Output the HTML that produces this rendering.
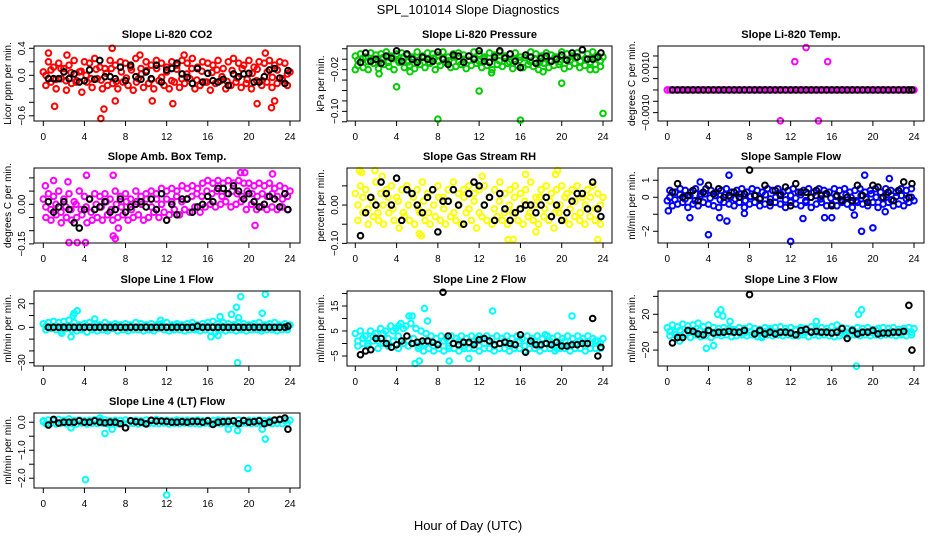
<!DOCTYPE html>
<html><head><meta charset="utf-8"><style>
html,body{margin:0;padding:0;background:#fff;}
svg{display:block;font-family:"Liberation Sans",Arial,sans-serif;}
</style></head><body>
<svg id="chart" width="936" height="540" viewBox="0 0 936 540">
<rect x="0" y="0" width="936" height="540" fill="#fff"/>
<text x="468" y="14" text-anchor="middle" font-size="13">SPL_101014  Slope Diagnostics</text>
<text x="468" y="530" text-anchor="middle" font-size="13">Hour of Day (UTC)</text>
</svg>
<script>
// ---- shared x ticks ----
const xTicks = [0,4,8,12,16,20,24];

// ---- CO2 ----
const co2Cloud = [0.05,-0.15,0.2,-0.1,0.12,-0.2,0.18,-0.05,0.1,-0.22,0.15,-0.12,0.22,-0.08,0.05,-0.25,0.2,-0.1,0.18,-0.18,0.25,-0.05,0.12,-0.2,0.1,-0.15,0.22,-0.12,0.15,-0.2,0.2,-0.1,0.18,-0.15,0.12,-0.22,0.25,-0.05,0.1,-0.18,0.2,-0.12,0.15,-0.2,0.22,-0.08,0.18,-0.15,0.12,-0.2,0.2,-0.1,0.15,-0.18,0.22,-0.12,0.18,-0.05,0.25,-0.2,0.12,-0.15,0.2,-0.1,0.18,-0.22,0.15,-0.12,0.22,-0.08,0.1,-0.2,0.2,-0.15,0.25,-0.1,0.18,-0.18,0.15,-0.12,0.22,-0.2,0.12,-0.08,0.2,-0.15,0.18,-0.1,0.22,-0.18,0.15,-0.12,0.2,-0.05,0.18,-0.15,0.05];
const co2Cloud2 = [0.0,0.08,-0.06,0.1,-0.08,0.04,-0.1,0.06,0.0,-0.05,0.09,-0.07,0.03,0.1,-0.09,0.05,-0.04,0.08,-0.1,0.02,0.07,-0.06,0.1,-0.03,0.05,-0.08,0.09,-0.05,0.02,0.1,-0.07,0.06,-0.1,0.04,0.08,-0.02,-0.09,0.07,-0.04,0.1,-0.06,0.03,0.09,-0.08,0.05,-0.03,0.08,-0.07,0.02];
const co2OutX = [0.5,1.1,5.6,5.9,6.7,20.8,22.2,22.5,13.7,2.3,10.6,12.6,7.0,21.6,9.4];
const co2OutY = [0.33,-0.46,-0.64,-0.5,0.4,-0.42,-0.48,-0.38,0.3,0.3,-0.38,-0.42,-0.38,0.33,0.3];
const co2Blk = [-0.05,-0.05,-0.05,0.05,-0.05,0.02,-0.1,-0.08,0.08,-0.06,0.22,-0.02,-0.02,-0.05,0.12,-0.08,0.15,-0.02,-0.06,0.05,-0.05,0.15,-0.1,0.08,0.1,0.18,0.02,-0.03,-0.12,0.1,-0.1,0.03,-0.08,-0.1,-0.06,-0.15,0.02,-0.02,0.02,0.03,-0.1,-0.1,-0.02,0.08,0.1,-0.04,-0.12,0.07];
const co2Ticks = [0.4,0.2,0.0,-0.2,-0.4,-0.6];
const co2Labels = ["0.4","","0.0","","","-0.6"];

// ---- Pressure ----
const prCloud = [0.006,-0.012,0.01,-0.016,0.004,-0.02,0.012,-0.008,0.008,-0.018,0.01,-0.01,0.014,-0.014,0.006,-0.02,0.01,-0.006,0.012,-0.016,0.008,-0.012,0.004,-0.018,0.014,-0.01,0.006,-0.016,0.012,-0.008,0.01,-0.02,0.008,-0.012,0.014,-0.006,0.004,-0.016,0.01,-0.014,0.012,-0.01,0.008,-0.018,0.006,-0.012,0.014,-0.008,0.01,-0.016,0.004,-0.012,0.012,-0.02,0.008,-0.01,0.014,-0.014,0.006,-0.008,0.01,-0.018,0.012,-0.012,0.004,-0.016,0.008,-0.01,0.014,-0.014,0.01,-0.02,0.006,-0.008,0.012,-0.016,0.008,-0.012,0.004,-0.01,0.014,-0.018,0.01,-0.014,0.006,-0.008,0.012,-0.016,0.008,-0.012,0.01,-0.02,0.014,-0.01,0.006,-0.014,0.004];
const prCloud2 = [-0.002,0.002,-0.005,0.0,-0.004,0.003,-0.006,0.001,-0.003,0.004,-0.005,0.0,-0.002,0.003,-0.006,0.002,-0.004,0.001,-0.003,0.004,-0.005,0.0,-0.002,0.003,-0.004,0.001,-0.006,0.002,-0.003,0.004,-0.005,0.0,-0.002,0.003,-0.004,0.001,-0.006,0.002,-0.003,0.004,-0.005,0.0,-0.002,0.003,-0.004,0.001,-0.006,0.002,-0.003];
const prOutX = [0.0,2.3,4.0,8.0,12.0,16.0,20.0,24.0,5.3,13.2,18.2,23.3];
const prOutY = [-0.02,-0.028,-0.053,-0.115,-0.061,-0.117,-0.046,-0.104,-0.024,-0.026,-0.024,-0.02];
const prBlk = [-0.006,0.012,-0.004,0.0,-0.008,0.006,0.002,0.016,-0.004,0.01,0.0,-0.006,0.004,0.0,-0.004,0.014,0.0,-0.01,0.008,0.006,-0.006,0.006,0.0,0.016,-0.004,-0.006,0.004,0.016,0.002,0.01,-0.004,-0.016,0.008,0.004,-0.008,0.002,0.006,-0.004,0.0,0.008,-0.002,0.012,0.004,0.018,0.0,0.0,0.004,0.012];
const prTicks = [0.02,0.0,-0.02,-0.04,-0.06,-0.08,-0.10,-0.12];
const prLabels = ["","","-0.02","","","","-0.10",""];

// ---- Li-820 Temp ----
const tpCloud = [0,0,0,0,0,0,0,0,0,0,0,0,0,0,0,0,0,0,0,0,0,0,0,0,0,0,0,0,0,0,0,0,0,0,0,0,0,0,0,0,0,0,0,0,0,0,0,0,0,0,0,0,0,0,0,0,0,0,0,0,0,0,0,0,0,0,0,0,0,0,0,0,0,0,0,0,0,0,0,0,0,0,0,0,0,0,0,0,0,0,0,0,0,0,0,0,0];
const tpCloud2 = [];
const tpOutX = [12.4,13.5,15.6,11.0,14.7];
const tpOutY = [0.00125,0.00187,0.00125,-0.00136,-0.00136];
const tpBlk = [0,0,0,0,0,0,0,0,0,0,0,0,0,0,0,0,0,0,0,0,0,0,0,0,0,0,0,0,0,0,0,0,0,0,0,0,0,0,0,0,0,0,0,0,0,0,0,0];
const tpTicks = [0.0015,0.0010,0.0005,0.0,-0.0005,-0.0010];
const tpLabels = ["","0.0010","","","","-0.0010"];

// ---- Amb box temp ----
const abCloud = [0.02,-0.05,0.04,-0.06,0.03,-0.04,0.05,-0.07,0.02,-0.05,0.04,-0.06,0.01,-0.05,0.05,-0.04,0.03,-0.07,0.02,-0.06,0.04,-0.05,0.03,-0.06,0.04,-0.04,0.02,-0.06,0.05,-0.05,0.03,-0.04,0.04,-0.06,0.02,-0.05,0.05,-0.04,0.03,-0.06,0.04,-0.05,0.05,-0.03,0.04,-0.05,0.06,-0.03,0.05,-0.04,0.06,-0.02,0.05,-0.04,0.07,-0.02,0.06,-0.03,0.07,-0.01,0.06,-0.03,0.08,-0.01,0.09,0.0,0.08,-0.01,0.09,0.0,0.08,0.01,0.09,-0.01,0.08,0.0,0.09,0.01,0.08,-0.02,0.08,0.0,0.07,-0.02,0.08,-0.01,0.07,-0.02,0.08,-0.01,0.06,-0.02,0.07,-0.01,0.06,-0.02,0.05];
const abCloud2 = [-0.01,-0.02,0.0,-0.03,-0.01,-0.02,0.0,-0.02,-0.01,-0.03,0.0,-0.01,0.01,-0.02,0.0,-0.01,0.01,-0.02,0.01,0.0,0.02,-0.01,0.02,0.0,0.02,0.01,0.03,0.01,0.02,0.03,0.04,0.03,0.05,0.04,0.05,0.03,0.04,0.05,0.04,0.03,0.05,0.04,0.03,0.04,0.03,0.04,0.03,0.02,0.03];
const abOutX = [2.5,3.3,4.1,6.8,7.0,4.2,6.8,19.6,22.3,7.3,20.6,0.2,19.2,1.0,2.4];
const abOutY = [-0.145,-0.145,-0.145,-0.12,-0.13,0.11,0.11,0.12,0.115,-0.09,-0.08,0.07,0.12,0.09,0.085];
const abBlk = [0.01,-0.03,-0.01,0.01,-0.02,-0.07,-0.09,-0.02,0.02,-0.02,-0.01,0.01,-0.03,-0.02,0.02,-0.03,-0.01,0.0,0.01,-0.01,0.02,-0.02,0.04,-0.06,0.0,-0.04,0.02,0.02,-0.03,-0.01,0.0,0.03,0.01,0.06,0.06,0.04,0.07,0.05,0.02,0.04,0.01,-0.01,0.0,0.03,0.02,-0.01,0.04,-0.02];
const abTicks = [0.10,0.05,0.0,-0.05,-0.10,-0.15];
const abLabels = ["","","0.00","","","-0.15"];

// ---- Gas stream RH ----
const rhCloud = [0.03,-0.04,0.05,-0.02,0.04,-0.05,0.02,-0.03,0.06,-0.04,0.03,-0.05,0.04,-0.02,0.05,-0.04,0.02,-0.06,0.04,-0.03,0.05,-0.04,0.03,-0.05,0.04,-0.02,0.06,-0.04,0.03,-0.05,0.04,-0.03,0.05,-0.04,0.02,-0.05,0.04,-0.03,0.06,-0.04,0.03,-0.05,0.04,-0.02,0.05,-0.04,0.03,-0.06,0.04,-0.03,0.05,-0.04,0.02,-0.05,0.04,-0.03,0.06,-0.04,0.03,-0.05,0.04,-0.02,0.05,-0.04,0.03,-0.05,0.04,-0.03,0.06,-0.04,0.02,-0.05,0.04,-0.03,0.05,-0.04,0.03,-0.06,0.04,-0.02,0.05,-0.04,0.03,-0.05,0.04,-0.03,0.05,-0.04,0.02,-0.05,0.04,-0.03,0.05,-0.04,0.03,-0.05,0.02];
const rhCloud2 = [0.0,0.02,-0.01,0.01,-0.02,0.0,0.02,-0.01,0.01,-0.02,0.0,0.02,-0.01,0.01,-0.02,0.0,0.02,-0.01,0.01,-0.02,0.0,0.02,-0.01,0.01,-0.02,0.0,0.02,-0.01,0.01,-0.02,0.0,0.02,-0.01,0.01,-0.02,0.0,0.02,-0.01,0.01,-0.02,0.0,0.02,-0.01,0.01,-0.02,0.0,0.02,-0.01,0.0];
const rhOutX = [0.4,0.6,1.9,6.2,6.4,14.8,15.3,23.5,19.6,17.5,19.4,2.6,12.3,16.5];
const rhOutY = [0.09,0.085,0.09,-0.075,-0.08,-0.09,-0.09,-0.09,0.09,-0.07,0.08,0.075,0.075,0.08];
const rhBlk = [-0.08,-0.02,0.02,0.0,0.06,0.03,0.0,0.07,-0.04,0.04,0.03,0.0,-0.02,0.02,0.04,-0.07,0.01,0.01,0.04,0.0,-0.05,0.03,0.06,0.05,0.0,0.02,-0.04,0.03,-0.01,-0.04,-0.02,-0.01,0.0,0.0,-0.02,0.0,0.02,-0.03,0.0,-0.04,-0.02,0.01,0.03,0.03,-0.01,0.06,-0.01,-0.03];
const rhTicks = [0.05,0.0,-0.05,-0.10];
const rhLabels = ["","0.00","","-0.10"];

// ---- Sample flow ----
const sfCloud = [-0.2,0.4,-0.5,0.3,-0.4,0.5,-0.3,0.4,-0.6,0.3,-0.4,0.5,-0.5,0.2,-0.3,0.5,-0.4,0.4,-0.5,0.3,-0.6,0.4,-0.3,0.5,-0.4,0.3,-0.5,0.4,-0.3,0.5,-0.6,0.3,-0.4,0.5,-0.3,0.4,-0.5,0.3,-0.4,0.5,-0.5,0.4,-0.3,0.5,-0.4,0.3,-0.6,0.4,-0.3,0.5,-0.4,0.3,-0.5,0.4,-0.3,0.5,-0.6,0.3,-0.4,0.5,-0.3,0.4,-0.5,0.3,-0.4,0.5,-0.5,0.4,-0.3,0.5,-0.4,0.3,-0.6,0.4,-0.3,0.5,-0.4,0.3,-0.5,0.4,-0.3,0.5,-0.6,0.3,-0.4,0.5,-0.3,0.4,-0.5,0.3,-0.4,0.5,-0.5,0.4,-0.3,0.5,-0.2];
const sfCloud2 = [0.0,-0.15,0.15,-0.1,0.1,-0.2,0.05,0.2,-0.05,0.1,-0.15,0.15,0.0,-0.1,0.2,-0.2,0.05,0.1,-0.05,0.15,-0.1,0.0,0.2,-0.15,0.1,-0.05,0.15,-0.2,0.0,0.1,-0.1,0.2,-0.05,0.05,-0.15,0.15,0.0,-0.2,0.1,-0.1,0.2,0.0,-0.05,0.15,-0.15,0.05,0.1,-0.1,0.0];
const sfOutX = [4.0,12.0,19.2,6.0,2.2,18.9,20.0,5.1,5.8,0.1,21.6,3.2,18.2,15.3,16.0,13.2,21.2,7.5];
const sfOutY = [-2.2,-2.6,1.3,1.3,-1.2,-2.0,-1.8,-1.2,-1.4,-0.8,1.1,0.9,-1.05,-1.2,-1.2,-1.25,-0.85,-0.95];
const sfBlk = [0.3,0.8,0.0,0.1,0.4,-0.2,0.3,0.7,0.2,0.5,0.0,0.1,0.3,0.0,0.2,1.6,0.1,-0.1,0.7,-0.3,0.4,0.1,0.6,-0.5,0.8,0.3,0.3,0.0,0.4,0.1,0.2,-0.5,0.1,-0.2,0.0,-0.2,0.7,0.1,-0.3,0.7,0.6,0.0,0.3,-0.2,0.4,0.9,0.0,0.8];
const sfTicks = [1,0,-1,-2];
const sfLabels = ["1","0","","-2"];

// ---- Line 1 flow ----
const l1Cloud = [3,-2,4,-1,5,-2,4,-3,5,-1,6,-2,4,-3,2,-2,3,-4,4,-2,3,-3,2,-2,4,-3,2,-1,3,-3,2,-2,3,-3,2,-2,4,-2,3,-3,2,-2,3,-3,2,-1,3,-2,4,-3,2,-2,3,-2,2,-3,3,-2,4,-2,2,-3,3,-2,4,-3,5,-4,3,-2,4,-3,3,-2,2,-3,4,-2,3,-3,2,-2,3,-2,4,-3,2,-2,3,-2,4,-3,2,-2,3,-2,2];
const l1Cloud2 = [1,0,1,-1,0,1,0,-1,1,0,0,1,-1,0,1,0,-1,1,0,0,1,-1,0,1,0,-1,1,0,0,1,-1,0,1,0,-1,1,0,0,1,-1,0,1,0,-1,1,0,0,1,0];
const l1OutX = [2.7,3.0,3.3,2.9,18.9,19.2,21.6,18.8,21.3,18.3,16.3,17.0,17.2,19.0,5.0,11.4,1.8];
const l1OutY = [-8,12,14,10,-30,26,28,17,12,11,-8,-7,9,8,7,6,-5];
const l1Blk = [0,0,0,0,0,0,0,0,0,0,0,0,0,0,0,0,0,0,0,0,0,0,0,0,0,0,0,0,0,1,0,0,0,0,0,0,0,0,0,0,0,0,0,0,0,0,0,1];
const l1Ticks = [20,10,0,-10,-20,-30];
const l1Labels = ["20","","0","","","-30"];

// ---- Line 2 flow ----
const l2Cloud = [4,-1,5,0,3,-1,5,1,4,-2,6,0,5,-1,7,1,6,-2,8,0,7,-1,8,2,6,-2,5,-3,4,-2,3,-3,2,-2,3,-3,2,-2,3,-2,2,-3,3,-2,2,-2,3,-2,2,-3,2,-2,3,-2,2,-3,3,-2,2,-2,3,-3,2,-2,3,-2,2,-3,3,-2,2,-2,3,-3,2,-2,3,-2,2,-3,3,-2,2,-2,3,-3,2,-2,3,-2,2,-3,3,-2,2,-2,1,-2,2];
const l2Cloud2 = [1,2,0,3,1,4,2,5,3,6,1,0,-1,0,1,-1,0,1,-1,0,1,-1,0,1,-1,0,1,-1,0,1,-1,0,1,-1,0,1,-1,0,1,-1,0,1,-1,0,1,-1,0,1,0];
const l2OutX = [5.8,6.2,6.7,7.0,9.1,13.3,21.0,4.2,5.2,5.5,12.0,18.4,11.0,19.5];
const l2OutY = [-8,-7,14,9,-7,13,11,7,11,11,3,3.5,-6,-2];
const l2Blk = [-4.5,-3,-2.5,2,2,0,-1.5,-0.5,1,3,0,0.5,1,1,0.5,-0.5,20.5,3,0,-0.5,0.5,0.5,-0.5,1.5,2,1,-0.5,0,0.5,0,-0.5,3.5,-3.5,1,-0.5,-0.5,0,-0.5,0.5,-1,-1,-0.5,-0.5,0,0,10,-5,-1.5];
const l2Ticks = [20,15,10,5,0,-5];
const l2Labels = ["","15","","5","","-5"];

// ---- Line 3 flow ----
const l3Cloud = [5,-4,8,-3,6,-5,9,-2,7,-6,8,-3,10,-5,6,-4,8,-6,5,-3,4,-4,5,-3,4,-5,3,-4,5,-3,4,-4,6,-3,4,-5,3,-4,5,-3,4,-4,5,-3,6,-4,4,-3,5,-4,3,-4,5,-3,4,-5,6,-3,4,-4,5,-3,4,-4,6,-5,8,-4,5,-3,4,-4,3,-3,5,-4,4,-3,5,-4,3,-3,4,-4,5,-3,4,-3,5,-4,3,-3,4,-4,5,-3,4];
const l3Cloud2 = [1,0,2,-1,1,0,2,-1,1,0,-1,1,0,2,-1,0,1,-1,0,1,2,0,-1,1,0,2,-1,0,1,0,-1,1,0,2,-1,0,1,0,-1,1,0,2,-1,0,1,0,-1,1,0];
const l3OutX = [4.5,5.2,5.4,18.4,18.6,18.9,4.9,1.2,3.8,6.1,14.5,9.2];
const l3OutY = [-15,25,18,-38,20,25,20,-10,-18,12,12,-6];
const l3Blk = [-12,-6,-6,2,1,-2,-3,2,-1,0,0,1,0,0,2,42,-2,2,-2,0,-2,0,0,-1,-3,2,3,0,1,0,0,-1,0,4,-7,2,-2,0,0,2,-2,-1,-1,0,0,1,30,-20];
const l3Ticks = [40,20,0,-20];
const l3Labels = ["","20","","-20"];

// ---- Line 4 flow ----
const l4Cloud = [0.05,-0.05,0.08,-0.04,0.06,-0.06,0.1,-0.03,0.07,-0.05,0.12,-0.04,0.06,-0.06,0.08,-0.03,0.05,-0.06,0.07,-0.04,0.09,-0.05,0.06,-0.03,0.08,-0.06,0.05,-0.04,0.07,-0.05,0.06,-0.03,0.08,-0.05,0.06,-0.04,0.07,-0.06,0.05,-0.03,0.08,-0.05,0.06,-0.04,0.1,-0.05,0.06,-0.03,0.07,-0.06,0.05,-0.04,0.08,-0.05,0.06,-0.03,0.07,-0.05,0.06,-0.04,0.08,-0.06,0.05,-0.03,0.07,-0.05,0.06,-0.04,0.08,-0.05,0.06,-0.03,0.07,-0.06,0.05,-0.04,0.08,-0.05,0.06,-0.03,0.07,-0.05,0.06,-0.04,0.08,-0.06,0.05,-0.03,0.07,-0.05,0.06,-0.04,0.08,-0.05,0.06,-0.03,0.07];
const l4Cloud2 = [];
const l4OutX = [4.1,12.0,19.9,21.6,6.0,18.9,2.7,5.5,18.0,21.3,6.7,0.0];
const l4OutY = [-2.05,-2.6,-1.65,-0.6,-0.4,-0.3,-0.2,0.15,-0.25,-0.25,-0.25,0.02];
const l4Blk = [-0.1,0.1,-0.03,0.0,0.0,0.0,0.05,0.0,0.0,0.05,0.0,-0.02,0.0,0.0,-0.05,-0.2,0.05,0.02,0.0,-0.06,0.07,0.04,0.04,0.03,0.0,0.0,0.02,0.0,0.03,0.03,0.0,0.05,-0.08,0.0,0.02,0.03,0.05,-0.05,0.06,0.0,0.02,0.05,-0.05,0.0,0.08,0.1,0.15,-0.25];
const l4Ticks = [0.0,-0.5,-1.0,-1.5,-2.0];
const l4Labels = ["0.0","","-1.0","","-2.0"];

// ---- layout ----
const cols = [{L:34,R:300,x0:43.3,x24:290},{L:347,R:612,x0:355.3,x24:603},{L:658,R:924,x0:667.3,x24:914}];
const rows = [{T:46,B:121},{T:168,B:243},{T:291,B:366},{T:413,B:488}];

const panels = [
 {id:'co2',title:'Slope Li-820 CO2',ylab:'Licor ppm per min.',c:0,r:0,top:0.434,bot:-0.677,color:'#ff0000',cloud:co2Cloud,cloud2:co2Cloud2,ox:co2OutX,oy:co2OutY,blk:co2Blk,ticks:co2Ticks,labels:co2Labels},
 {id:'pressure',title:'Slope Li-820 Pressure',ylab:'kPa per min.',c:1,r:0,top:0.0253,bot:-0.1185,color:'#00cd00',cloud:prCloud,cloud2:prCloud2,ox:prOutX,oy:prOutY,blk:prBlk,ticks:prTicks,labels:prLabels},
 {id:'li820-temp',title:'Slope Li-820 Temp.',ylab:'degrees C per min.',c:2,r:0,top:0.00194,bot:-0.00137,color:'#ff00ff',cloud:tpCloud,cloud2:tpCloud2,ox:tpOutX,oy:tpOutY,blk:tpBlk,ticks:tpTicks,labels:tpLabels},
 {id:'amb-box-temp',title:'Slope Amb. Box Temp.',ylab:'degrees C per min.',c:0,r:1,top:0.1375,bot:-0.1466,color:'#ff00ff',cloud:abCloud,cloud2:abCloud2,ox:abOutX,oy:abOutY,blk:abBlk,ticks:abTicks,labels:abLabels},
 {id:'gas-stream-rh',title:'Slope Gas Stream RH',ylab:'percent per min.',c:1,r:1,top:0.0966,bot:-0.099,color:'#ffff00',cloud:rhCloud,cloud2:rhCloud2,ox:rhOutX,oy:rhOutY,blk:rhBlk,ticks:rhTicks,labels:rhLabels},
 {id:'sample-flow',title:'Slope Sample Flow',ylab:'ml/min per min.',c:2,r:1,top:1.72,bot:-2.69,color:'#0000ff',cloud:sfCloud,cloud2:sfCloud2,ox:sfOutX,oy:sfOutY,blk:sfBlk,ticks:sfTicks,labels:sfLabels},
 {id:'line1-flow',title:'Slope Line 1 Flow',ylab:'ml/min per min.',c:0,r:2,top:30.8,bot:-32.8,color:'#00ffff',cloud:l1Cloud,cloud2:l1Cloud2,ox:l1OutX,oy:l1OutY,blk:l1Blk,ticks:l1Ticks,labels:l1Labels},
 {id:'line2-flow',title:'Slope Line 2 Flow',ylab:'ml/min per min.',c:1,r:2,top:21,bot:-9,color:'#00ffff',cloud:l2Cloud,cloud2:l2Cloud2,ox:l2OutX,oy:l2OutY,blk:l2Blk,ticks:l2Ticks,labels:l2Labels},
 {id:'line3-flow',title:'Slope Line 3 Flow',ylab:'ml/min per min.',c:2,r:2,top:46,bot:-37.8,color:'#00ffff',cloud:l3Cloud,cloud2:l3Cloud2,ox:l3OutX,oy:l3OutY,blk:l3Blk,ticks:l3Ticks,labels:l3Labels},
 {id:'line4-flow',title:'Slope Line 4 (LT) Flow',ylab:'ml/min per min.',c:0,r:3,top:0.33,bot:-2.35,color:'#00ffff',cloud:l4Cloud,cloud2:l4Cloud2,ox:l4OutX,oy:l4OutY,blk:l4Blk,ticks:l4Ticks,labels:l4Labels}
];

const NS='http://www.w3.org/2000/svg';
const svg=document.getElementById('chart');
function mk(tag,attrs,parent){const e=document.createElementNS(NS,tag);for(const k in attrs)e.setAttribute(k,attrs[k]);parent.appendChild(e);return e;}

panels.forEach(p=>{
  const col=cols[p.c], row=rows[p.r];
  const g=mk('g',{},svg);
  
  
  const xs=h=>col.x0+(col.x24-col.x0)*h/24;
  const ys=v=>row.T+(p.top-v)/(p.top-p.bot)*(row.B-row.T);
  const t=mk('text',{x:(col.L+col.R)/2,y:row.T-8,'text-anchor':'middle','font-size':'11','font-weight':'bold'},g);
  t.textContent=p.title;
  
  
  xTicks.forEach(h=>{
    const ln=mk('line',{x1:xs(h),x2:xs(h),y1:row.B,y2:row.B+5,stroke:'#000','stroke-width':1},g);
    
    
    const tl=mk('text',{x:xs(h),y:row.B+19,'text-anchor':'middle','font-size':'10'},g);
    tl.textContent=h;
    
    
  });
  p.ticks.forEach((v,i)=>{
    const y=ys(v);
    const ln=mk('line',{x1:col.L-5,x2:col.L,y1:y,y2:y,stroke:'#000','stroke-width':1},g);
    
    
    if(p.labels[i]){
      const lx=col.L-9;
      const tl=mk('text',{x:lx,y:y,'text-anchor':'middle','font-size':'10',transform:`rotate(-90 ${lx} ${y})`},g);
      tl.textContent=p.labels[i].replace('-','\u2212');
      
      
    }
  });
  const cy=(row.T+row.B)/2, yx=col.L-23;
  const yt=mk('text',{x:yx,y:cy,'text-anchor':'middle','font-size':'10',transform:`rotate(-90 ${yx} ${cy})`},g);
  yt.textContent=p.ylab;
  
  
  const pts=mk('g',{fill:'none','stroke-width':2},g);
  
  
  function dot(h,v,color){
    const c=mk('circle',{cx:xs(h),cy:ys(v),r:2.8,stroke:color},pts);
    
    
  }
  p.cloud.forEach((v,i)=>dot(24*i/(p.cloud.length-1),v,p.color));
  p.cloud2.forEach((v,i)=>dot(0.25+23.5*i/Math.max(1,p.cloud2.length-1),v,p.color));
  p.ox.forEach((h,i)=>dot(h,p.oy[i],p.color));
  p.blk.forEach((v,i)=>dot(0.5+i*0.5-(i==47?0.2:0),v,'#000'));
  const box=mk('rect',{x:col.L,y:row.T,width:col.R-col.L,height:row.B-row.T,fill:'none',stroke:'#000','stroke-width':1},g);
  
  
});
</script>
</body></html>
